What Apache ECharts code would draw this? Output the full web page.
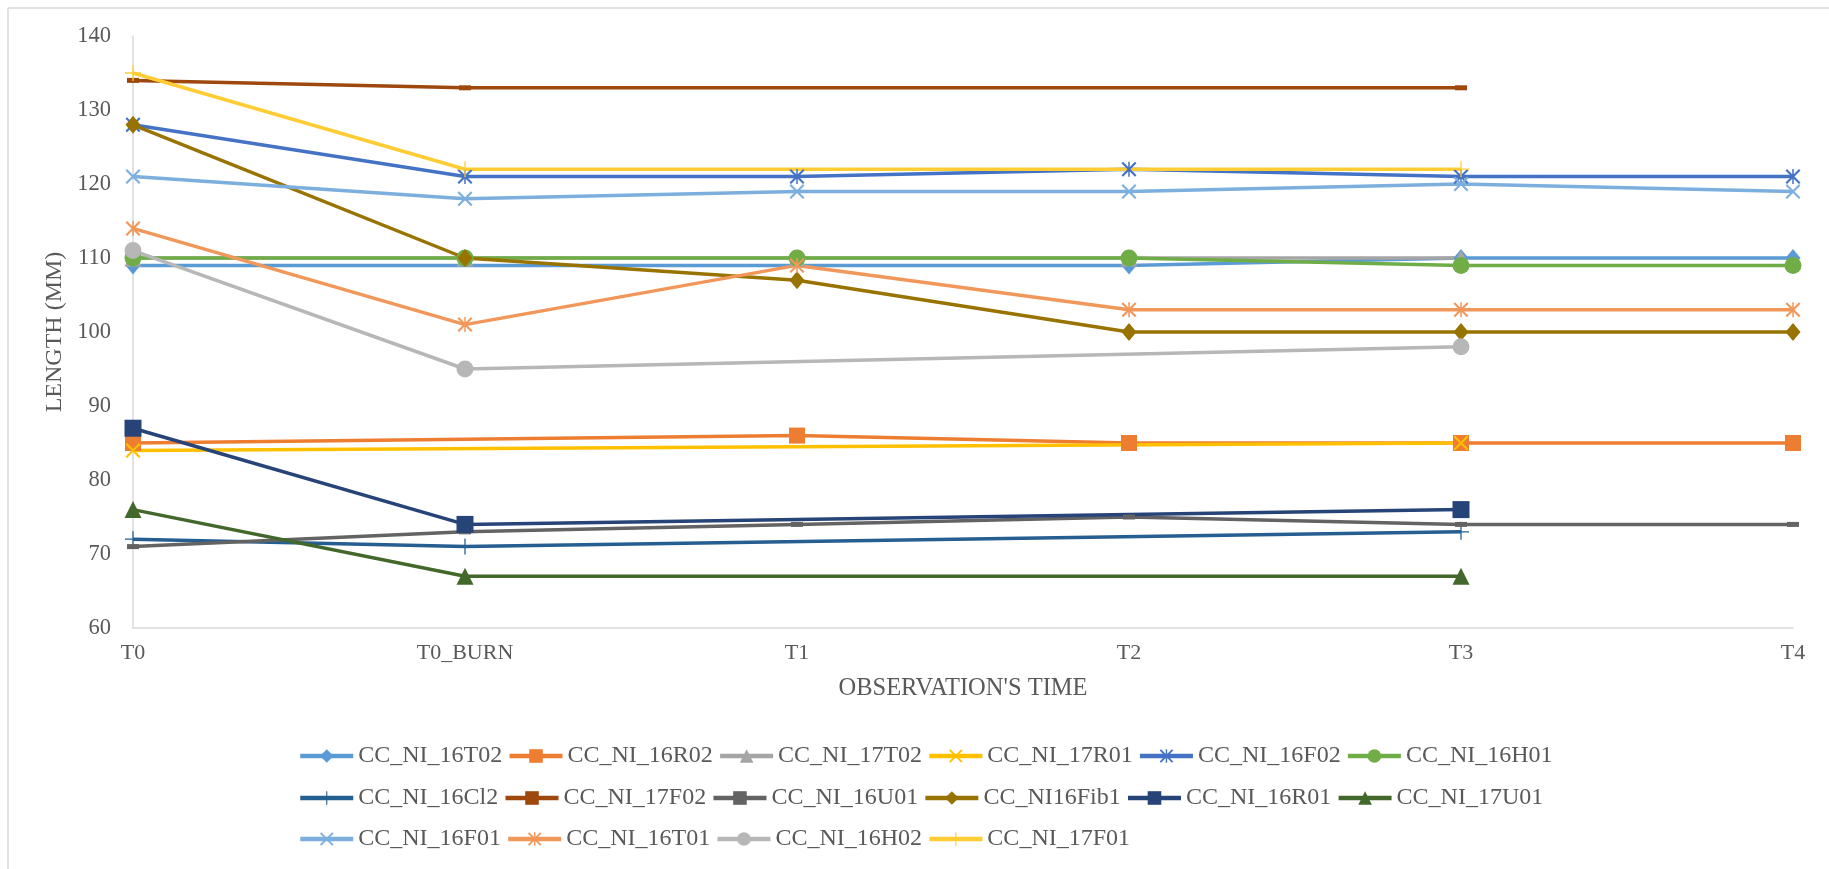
<!DOCTYPE html>
<html>
<head>
<meta charset="utf-8">
<script src="https://cdn.jsdelivr.net/npm/echarts@6/dist/echarts.min.js"></script>
<style>
html,body{margin:0;padding:0;background:#fff;}
#c{width:1829px;height:869px;}
</style>
</head>
<body>
<div id="c"></div>
<script>
// ---- data ----
var categories = ['T0', 'T0_BURN', 'T1', 'T2', 'T3', 'T4'];
var seriesNames = ['CC_NI_16T02','CC_NI_16R02','CC_NI_17T02','CC_NI_17R01','CC_NI_16F02','CC_NI_16H01',
                   'CC_NI_16Cl2','CC_NI_17F02','CC_NI_16U01','CC_NI16Fib1','CC_NI_16R01','CC_NI_17U01',
                   'CC_NI_16F01','CC_NI_16T01','CC_NI_16H02','CC_NI_17F01'];
var v16T02  = [109, null, null, 109, 110, 110];
var v16R02  = [85, null, 86, 85, 85, 85];
var v17T02  = [110, 110, 110, 110, 110, null];
var v17R01  = [84, null, null, null, 85, null];
var v16F02  = [128, 121, 121, 122, 121, 121];
var v16H01  = [110, 110, 110, 110, 109, 109];
var v16Cl2  = [72, 71, null, null, 73, null];
var v17F02  = [134, 133, null, null, 133, null];
var v16U01  = [71, 73, 74, 75, 74, 74];
var v16Fib1 = [128, 110, 107, 100, 100, 100];
var v16R01  = [87, 74, null, null, 76, null];
var v17U01  = [76, 67, null, null, 67, null];
var v16F01  = [121, 118, 119, 119, 120, 119];
var v16T01  = [114, 101, 109, 103, 103, 103];
var v16H02  = [111, 95, null, null, 98, null];
var v17F01  = [135, 122, null, null, 122, null];
var yTicks = {min: 60, max: 140, interval: 10};

// ---- styling ----
var FONT = 'Liberation Serif';
var TXT = '#595959';
var SYM_X = 'path://M2,0 L10,8 L18,0 L20,2 L12,10 L20,18 L18,20 L10,12 L2,20 L0,18 L8,10 L0,2 Z';
var SYM_PLUS = 'path://M9.2,0 L10.8,0 L10.8,9.2 L20,9.2 L20,10.8 L10.8,10.8 L10.8,20 L9.2,20 L9.2,10.8 L0,10.8 L0,9.2 L9.2,9.2 Z';
var SYM_AST = 'path://M2,0 L10,8 L18,0 L20,2 L12,10 L20,18 L18,20 L10,12 L2,20 L0,18 L8,10 L0,2 Z M9,0 L11,0 L11,20 L9,20 Z';
var SYM_DASH = 'path://M0,0 L20,0 L20,8 L0,8 Z';

var styles = [
  {c:'#5B9BD5', s:'diamond', z:[15,18]},
  {c:'#ED7D31', s:'rect', z:16},
  {c:'#A5A5A5', s:'triangle', z:17},
  {c:'#FFC000', s:SYM_X, z:15},
  {c:'#4472C4', s:SYM_AST, z:15},
  {c:'#70AD47', s:'circle', z:17},
  {c:'#255E91', s:SYM_PLUS, z:16},
  {c:'#9E480E', s:SYM_DASH, z:[12,5]},
  {c:'#636363', s:SYM_DASH, z:[12,5]},
  {c:'#997300', s:'diamond', z:[15,18]},
  {c:'#264478', s:'rect', z:17},
  {c:'#43682B', s:'triangle', z:17},
  {c:'#7CAFDD', s:SYM_X, z:15},
  {c:'#F1975A', s:SYM_AST, z:15},
  {c:'#B7B7B7', s:'circle', z:17},
  {c:'#FFCD33', s:SYM_PLUS, z:16}
];
var values = [v16T02,v16R02,v17T02,v17R01,v16F02,v16H01,v16Cl2,v17F02,v16U01,v16Fib1,v16R01,v17U01,v16F01,v16T01,v16H02,v17F01];

var series = seriesNames.map(function(n, i){
  return {
    name: n, type: 'line', data: values[i], connectNulls: true,
    symbol: styles[i].s, symbolSize: styles[i].z, showAllSymbol: true,
    lineStyle: {color: styles[i].c, width: 3.5},
    itemStyle: {color: styles[i].c, borderWidth: 0},
    emphasis: {disabled: true}
  };
});

function legendRow(names, top){
  return {
    data: names, left: 293, top: top, orient: 'horizontal',
    itemWidth: 53, itemHeight: 17, itemGap: 5,
    lineStyle: {width: 4.5},
    textStyle: {fontFamily: FONT, fontSize: 24, color: TXT, width: 144, padding: [0,0,0,0]},
    selectedMode: false
  };
}

var chart = echarts.init(document.getElementById('c'));
chart.setOption({
  animation: false,
  backgroundColor: '#fff',
  graphic: [
    {type:'line', shape:{x1:8, y1:8, x2:8, y2:869}, style:{stroke:'#D9D9D9', lineWidth:1.5}},
    {type:'line', shape:{x1:8, y1:8, x2:1829, y2:8}, style:{stroke:'#D9D9D9', lineWidth:1.5}}
  ],
  grid: {left: 133, right: 36, top: 36, bottom: 241, containLabel: false},
  legend: [
    legendRow(seriesNames.slice(0,6), 739),
    legendRow(seriesNames.slice(6,12), 781),
    legendRow(seriesNames.slice(12,16), 822)
  ],
  xAxis: {
    type: 'category', data: categories, boundaryGap: false,
    axisLine: {lineStyle: {color: '#D9D9D9', width: 1.5}},
    axisTick: {show: false},
    axisLabel: {fontFamily: FONT, fontSize: 22, color: TXT, margin: 14},
    name: "OBSERVATION'S TIME", nameLocation: 'middle', nameGap: 48,
    nameTextStyle: {fontFamily: FONT, fontSize: 24.5, color: TXT}
  },
  yAxis: {
    type: 'value', min: yTicks.min, max: yTicks.max, interval: yTicks.interval,
    axisLine: {show: true, lineStyle: {color: '#D9D9D9', width: 1.5}},
    axisTick: {show: false},
    splitLine: {show: false},
    axisLabel: {fontFamily: FONT, fontSize: 22.5, color: TXT, margin: 22},
    name: 'LENGTH (MM)', nameLocation: 'middle', nameGap: 65, nameRotate: 90,
    nameTextStyle: {fontFamily: FONT, fontSize: 24, color: TXT}
  },
  series: series
});
</script>
</body>
</html>
